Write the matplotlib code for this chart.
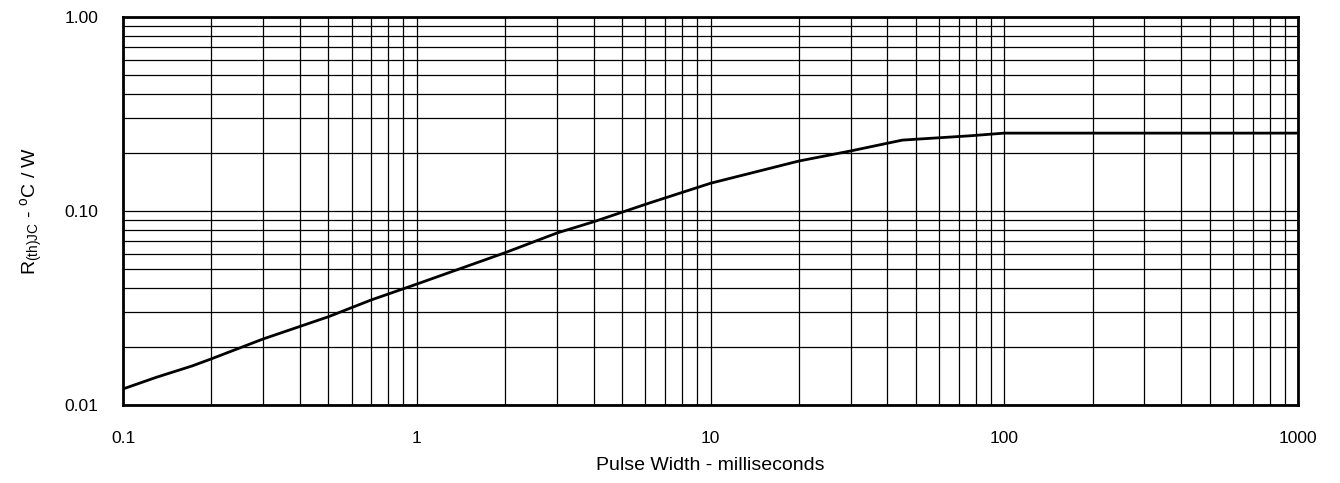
import matplotlib
matplotlib.use("Agg")
import matplotlib.pyplot as plt
from matplotlib.ticker import FixedLocator, LogLocator, NullFormatter

plt.rcParams['font.family'] = ['Liberation Sans', 'DejaVu Sans']
plt.rcParams['mathtext.default'] = 'regular'

# transient thermal impedance curve
pulse_ms = [0.1, 0.13, 0.172, 0.2, 0.3, 0.5, 0.7, 1.0, 2.0, 3.0, 4.0, 6.2,
            10, 20, 30, 45, 76, 100, 1000]
r_thjc = [0.0121, 0.0139, 0.0159, 0.0173, 0.0219, 0.0285, 0.0348, 0.042,
          0.061, 0.077, 0.088, 0.110, 0.139, 0.181, 0.204, 0.232, 0.244,
          0.252, 0.252]

x_ticks = [0.1, 1, 10, 100, 1000]
x_labels = ['0.1', '1', '10', '100', '1000']
y_ticks = [0.01, 0.1, 1.0]
y_labels = ['0.01', '0.10', '1.00']

fig = plt.figure(figsize=(13.4, 4.83), dpi=100)
ax = fig.add_axes([0.0918, 0.1615, 0.8769, 0.8033])

ax.plot(pulse_ms, r_thjc, color='black', lw=2, zorder=3)

ax.set_xscale('log')
ax.set_yscale('log')
ax.set_xlim(0.1, 1000)
ax.set_ylim(0.01, 1.0)

ax.xaxis.set_major_locator(FixedLocator(x_ticks))
ax.set_xticklabels(x_labels)
ax.yaxis.set_major_locator(FixedLocator(y_ticks))
ax.set_yticklabels(y_labels)
ax.xaxis.set_minor_locator(LogLocator(base=10, subs=range(2, 10), numticks=20))
ax.yaxis.set_minor_locator(LogLocator(base=10, subs=range(2, 10), numticks=20))
ax.xaxis.set_minor_formatter(NullFormatter())
ax.yaxis.set_minor_formatter(NullFormatter())

ax.grid(True, which='both', color='black', lw=0.9)
ax.tick_params(which='both', length=0)
ax.tick_params(axis='x', pad=19, labelsize=12.5)
ax.tick_params(axis='y', pad=18, labelsize=12.5)

for s in ax.spines.values():
    s.set_linewidth(2)
    s.set_color('black')

ax.set_xlabel('Pulse Width - milliseconds', fontsize=14, labelpad=8)
ax.set_ylabel(r'R$_{(th)JC}$ - $^{o}$C / W', fontsize=14, labelpad=14)

fig.savefig('out.png', dpi=100)
